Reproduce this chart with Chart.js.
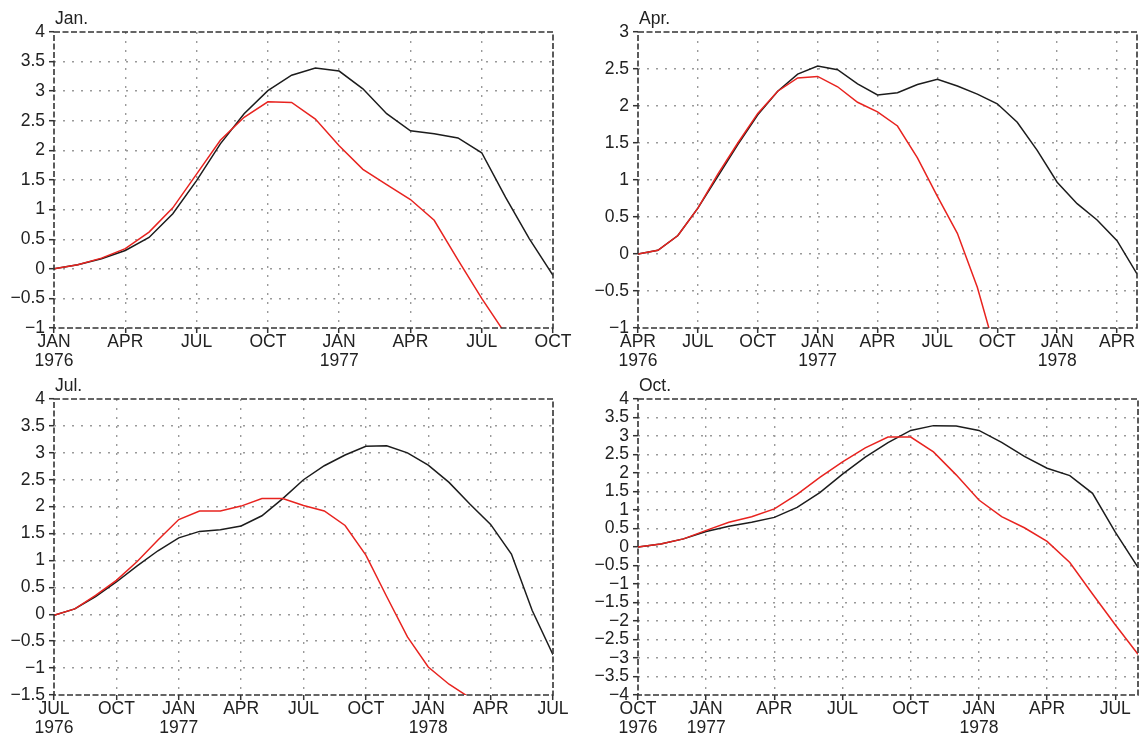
<!DOCTYPE html>
<html>
<head>
<meta charset="utf-8">
<script src="https://cdn.jsdelivr.net/npm/chart.js@4.4.0/dist/chart.umd.min.js"></script>
<style>
  html, body { margin: 0; padding: 0; background: #ffffff; }
  #wrap { position: relative; width: 1139px; height: 740px; overflow: hidden; background: #ffffff; }
  canvas { position: absolute; left: 0; top: 0; }
</style>
</head>
<body>
<div id="wrap">
  <canvas id="c1" width="1139" height="740"></canvas>
  <canvas id="c2" width="1139" height="740"></canvas>
  <canvas id="c3" width="1139" height="740"></canvas>
  <canvas id="c4" width="1139" height="740"></canvas>
</div>
<script>
// ---------- DATA (monthly values, index 0 = first month of each panel) ----------
const titles = ["Jan.", "Apr.", "Jul.", "Oct."];

const black1 = [0, 0.07, 0.17, 0.31, 0.53, 0.93, 1.49, 2.11, 2.62, 3.01, 3.27, 3.39, 3.34, 3.04, 2.62, 2.33, 2.28, 2.21, 1.96, 1.21, 0.51, -0.11];
const red1   = [0, 0.07, 0.18, 0.34, 0.62, 1.03, 1.60, 2.17, 2.56, 2.82, 2.81, 2.53, 2.08, 1.68, 1.42, 1.17, 0.82, 0.15, -0.50, -1.10];

const black2 = [0, 0.05, 0.25, 0.62, 1.05, 1.48, 1.88, 2.20, 2.43, 2.54, 2.49, 2.30, 2.15, 2.18, 2.29, 2.36, 2.27, 2.16, 2.03, 1.78, 1.40, 0.97, 0.68, 0.46, 0.18, -0.27];
const red2   = [0, 0.05, 0.25, 0.62, 1.08, 1.50, 1.90, 2.20, 2.38, 2.40, 2.26, 2.05, 1.92, 1.73, 1.30, 0.78, 0.28, -0.45, -1.40];

const black3 = [-0.02, 0.10, 0.33, 0.60, 0.90, 1.18, 1.42, 1.54, 1.57, 1.64, 1.83, 2.15, 2.50, 2.76, 2.96, 3.12, 3.13, 3.00, 2.77, 2.45, 2.05, 1.67, 1.12, 0.07, -0.75];
const red3   = [-0.02, 0.10, 0.35, 0.63, 0.98, 1.38, 1.76, 1.92, 1.92, 2.01, 2.15, 2.15, 2.02, 1.92, 1.65, 1.10, 0.33, -0.42, -0.98, -1.30, -1.55];

const black4 = [0, 0.08, 0.22, 0.42, 0.56, 0.67, 0.80, 1.07, 1.47, 1.97, 2.43, 2.82, 3.15, 3.28, 3.27, 3.15, 2.83, 2.45, 2.13, 1.93, 1.45, 0.40, -0.55];
const red4   = [0, 0.08, 0.22, 0.45, 0.67, 0.82, 1.03, 1.42, 1.88, 2.30, 2.68, 2.97, 2.97, 2.57, 1.95, 1.27, 0.82, 0.52, 0.15, -0.42, -1.27, -2.10, -2.90];

// x tick labels, one every 3 months
const xTicks1 = [["JAN","1976"], "APR", "JUL", "OCT", ["JAN","1977"], "APR", "JUL", "OCT"];
const xTicks2 = [["APR","1976"], "JUL", "OCT", ["JAN","1977"], "APR", "JUL", "OCT", ["JAN","1978"], "APR"];
const xTicks3 = [["JUL","1976"], "OCT", ["JAN","1977"], "APR", "JUL", "OCT", ["JAN","1978"], "APR", "JUL"];
const xTicks4 = [["OCT","1976"], ["JAN","1977"], "APR", "JUL", "OCT", ["JAN","1978"], "APR", "JUL"];

// number of months spanned by each x axis
const xSpan = [21, 25, 24, 22];
// y ranges
const yMin = [-1, -1, -1.5, -4];
const yMax = [4, 3, 4, 4];

// ---------- LAYOUT ----------
const W = 1139, H = 740;
const areas = [
  {l: 54,  r: 553,  t: 32,  b: 328},
  {l: 638, r: 1137, t: 32,  b: 328},
  {l: 54,  r: 553,  t: 399, b: 695},
  {l: 638, r: 1138, t: 399, b: 695}
];
const Y_AXIS_W = 54, X_AXIS_H = 44;
const FONT = {family: "'Liberation Sans', Arial, Helvetica, sans-serif", size: 17.5, lineHeight: 1.08};

function fmt(v) {
  const r = Math.round(v * 10) / 10;
  return String(r).replace('-', '\u2212');
}

const panelPlugin = {
  id: 'panelDeco',
  afterDatasetsDraw(chart, args, opts) {
    const {ctx, chartArea: a} = chart;
    ctx.save();
    ctx.strokeStyle = '#333333';
    ctx.lineWidth = 1.6;
    ctx.setLineDash([6, 2.5]);
    ctx.strokeRect(a.left, a.top, a.right - a.left, a.bottom - a.top);
    ctx.restore();
  },
  afterDraw(chart, args, opts) {
    const {ctx, chartArea: a} = chart;
    ctx.save();
    ctx.fillStyle = '#222222';
    ctx.font = "17.5px 'Liberation Sans', Arial, sans-serif";
    ctx.textBaseline = 'alphabetic';
    ctx.textAlign = 'left';
    ctx.fillText(opts.title, a.left + 1, a.top - 8);
    ctx.restore();
  }
};

function makePanel(k, black, red, xTicks) {
  const a = areas[k];
  const maxX = xSpan[k];
  const gridColor = (c, maxV, minV) => {
    const v = c.tick ? c.tick.value : null;
    if (v === null) return '#9a9a9a';
    if (Math.abs(v - minV) < 1e-9 || Math.abs(v - maxV) < 1e-9) return 'rgba(0,0,0,0)';
    return '#9a9a9a';
  };
  new Chart(document.getElementById('c' + (k + 1)), {
    type: 'line',
    data: {
      datasets: [
        {data: red.map((v, i) => ({x: i, y: v})), borderColor: '#e8231f', borderWidth: 1.5},
        {data: black.map((v, i) => ({x: i, y: v})), borderColor: '#1c1c1c', borderWidth: 1.5}
      ]
    },
    options: {
      responsive: false,
      animation: false,
      events: [],
      devicePixelRatio: 1,
      layout: {
        padding: {
          left: a.l - Y_AXIS_W,
          right: W - a.r,
          top: a.t,
          bottom: H - a.b - X_AXIS_H
        }
      },
      elements: {
        point: {radius: 0},
        line: {tension: 0, fill: false}
      },
      plugins: {
        legend: {display: false},
        tooltip: {enabled: false},
        title: {display: false},
        panelDeco: {title: titles[k]}
      },
      scales: {
        x: {
          type: 'linear',
          min: 0,
          max: maxX,
          grid: {
            color: c => gridColor(c, maxX, 0),
            lineWidth: 1.4,
            drawTicks: true,
            tickLength: 5,
            tickColor: '#333333',
            tickWidth: 1.5
          },
          border: {display: false, dash: [2, 7]},
          ticks: {
            stepSize: 3,
            includeBounds: false,
            autoSkip: false,
            maxRotation: 0,
            minRotation: 0,
            padding: 0,
            color: '#222222',
            font: FONT,
            callback: v => xTicks[Math.round(v / 3)]
          },
          afterFit: s => { s.height = X_AXIS_H; s.paddingLeft = 0; s.paddingRight = 0; }
        },
        y: {
          type: 'linear',
          min: yMin[k],
          max: yMax[k],
          grid: {
            color: c => gridColor(c, yMax[k], yMin[k]),
            lineWidth: 1.4,
            drawTicks: true,
            tickLength: 5,
            tickColor: '#333333',
            tickWidth: 1.5
          },
          border: {display: false, dash: [2, 7]},
          ticks: {
            stepSize: 0.5,
            maxTicksLimit: 100,
            autoSkip: false,
            padding: 4,
            color: '#222222',
            font: FONT,
            callback: v => fmt(v)
          },
          afterFit: s => { s.width = Y_AXIS_W; s.paddingTop = 0; s.paddingBottom = 0; }
        }
      }
    },
    plugins: [panelPlugin]
  });
}

makePanel(0, black1, red1, xTicks1);
makePanel(1, black2, red2, xTicks2);
makePanel(2, black3, red3, xTicks3);
makePanel(3, black4, red4, xTicks4);
</script>
</body>
</html>
